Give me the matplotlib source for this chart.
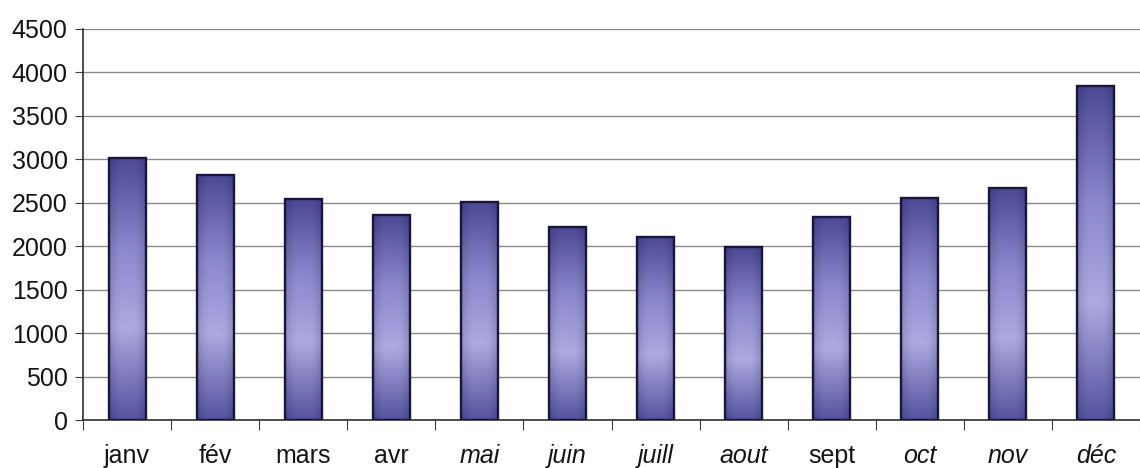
import numpy as np
import matplotlib
matplotlib.use('Agg')
import matplotlib.pyplot as plt
from matplotlib.colors import LinearSegmentedColormap

months = ['janv', 'fév', 'mars', 'avr', 'mai', 'juin', 'juill', 'aout',
          'sept', 'oct', 'nov', 'déc']
values = [3020, 2820, 2540, 2360, 2510, 2220, 2110, 1990, 2340, 2560, 2670, 3840]
italic = [False, False, False, False, True, True, True, True, False, True, True, True]
yticks = list(range(0, 4501, 500))

plt.rcParams['font.family'] = ['Liberation Sans', 'DejaVu Sans']

fig = plt.figure(figsize=(11.4, 4.68), dpi=100)
ax = fig.add_axes([83/1140, 48/468, 1 - 83/1140, 1 - 48/468 - 29/468])

x = np.arange(len(months))
bars = ax.bar(x, values, width=0.42, facecolor='none', edgecolor='#17173c',
              linewidth=1.7, zorder=3)

# soft vertical gradient: darker top and bottom, light lower-middle
cmap = LinearSegmentedColormap.from_list(
    'barg', [(0.0, '#5553a0'), (0.35, '#aeaae2'), (0.65, '#8c89cf'), (1.0, '#4c4996')])
grad = np.linspace(0, 1, 256).reshape(-1, 1)
# slight horizontal darkening at the edges
edge = 1 - 0.18 * np.abs(np.linspace(-1, 1, 32)) ** 3
for b in bars:
    bx, by, bw, bh = b.get_x(), b.get_y(), b.get_width(), b.get_height()
    rgba = cmap(np.repeat(grad, 32, axis=1))
    rgba[..., :3] *= edge[None, :, None]
    im = ax.imshow(rgba, aspect='auto', origin='lower',
                   extent=(bx, bx + bw, by, by + bh), zorder=2)
    im.set_clip_path(b)

ax.set_xlim(-0.5, 11.44)
ax.set_ylim(0, 4500)
ax.set_yticks(yticks)
ax.yaxis.grid(True, color='#8a8a8a', linewidth=1.0, zorder=0)
ax.set_axisbelow(True)

ax.set_xticks(np.arange(-0.5, 12, 1.0))
ax.set_xticklabels([])
ax.set_xticks(x, minor=True)
ax.set_xticklabels(months, minor=True)
ax.tick_params(axis='x', which='major', direction='out', length=7, color='#404040')
ax.tick_params(axis='x', which='minor', length=0, pad=17, labelsize=18, labelcolor='#151515')
ax.tick_params(axis='y', direction='out', length=6, color='#404040', labelsize=18,
               pad=5, labelcolor='#151515')
for lab, it in zip(ax.get_xticklabels(minor=True), italic):
    if it:
        lab.set_style('italic')

for s in ['top', 'right']:
    ax.spines[s].set_visible(False)
ax.spines['left'].set_color('#303030')
ax.spines['bottom'].set_color('#303030')
ax.spines['left'].set_linewidth(1.2)
ax.spines['bottom'].set_linewidth(1.2)

fig.savefig('out.png', dpi=100)
